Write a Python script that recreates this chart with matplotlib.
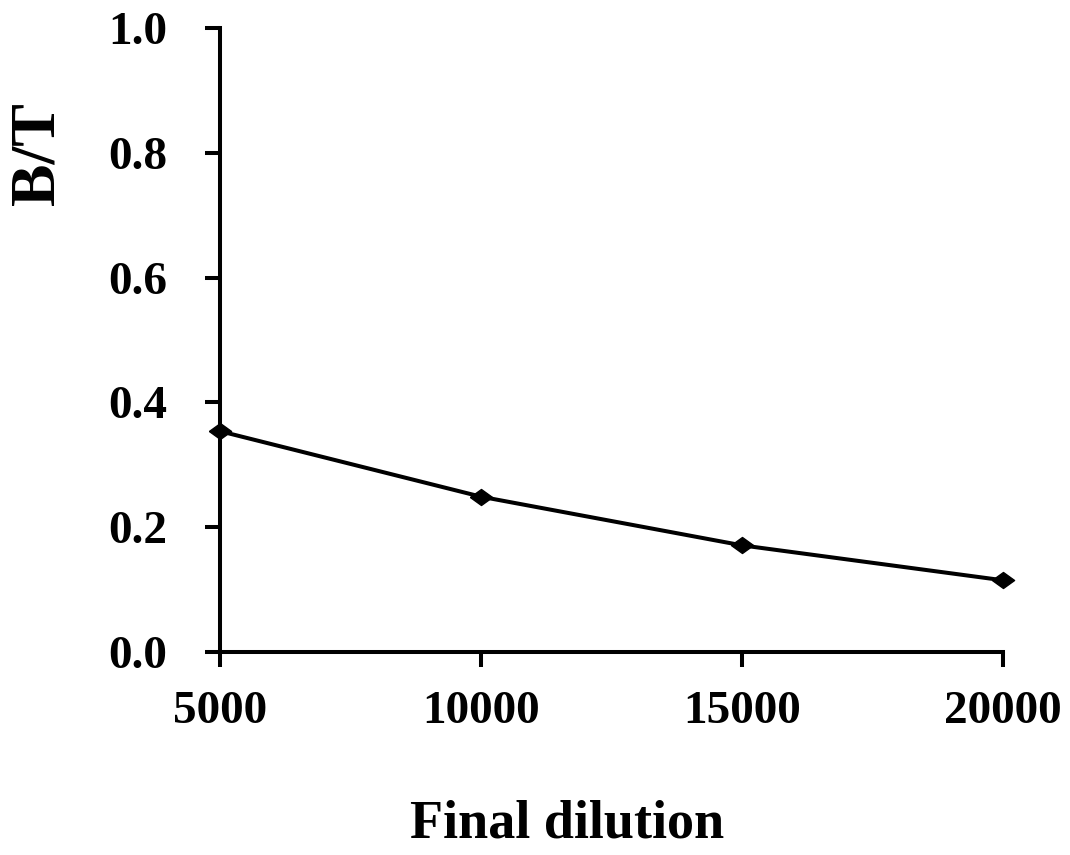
import matplotlib.pyplot as plt

# data
dilution = [5000, 10000, 15000, 20000]
bt_ratio = [0.354, 0.249, 0.171, 0.115]

x_ticks = [5000, 10000, 15000, 20000]
y_ticks = [0.0, 0.2, 0.4, 0.6, 0.8, 1.0]

plt.rcParams['font.family'] = ['Liberation Serif', 'DejaVu Serif']
plt.rcParams['font.weight'] = 'bold'

fig = plt.figure(figsize=(10.7, 8.55), dpi=100)
ax = fig.add_axes([0.2056, 0.2374, 0.7318, 0.7296])

# flattened diamond marker like the original
diamond = [(-1, 0), (0, 0.72), (1, 0), (0, -0.72), (-1, 0)]

ax.plot(dilution, bt_ratio, color='black', linewidth=2.9,
        marker=diamond, markersize=16, markerfacecolor='black',
        markeredgecolor='black', clip_on=False, zorder=3)

ax.set_xlim(5000, 20000)
ax.set_ylim(0, 1.0)
ax.set_xticks(x_ticks)
ax.set_yticks(y_ticks)
ax.set_xticklabels([str(v) for v in x_ticks], fontsize=34, fontweight='bold')
ax.set_yticklabels([f"{v:.1f}" for v in y_ticks], fontsize=34, fontweight='bold')

for side in ['top', 'right']:
    ax.spines[side].set_visible(False)
for side in ['left', 'bottom']:
    ax.spines[side].set_linewidth(2.9)

ax.tick_params(axis='both', direction='out', length=11, width=2.9)
ax.tick_params(axis='y', pad=27)
ax.tick_params(axis='x', pad=17)

fig.text(0.530, 0.021, "Final dilution", fontsize=39,
         fontweight='bold', ha='center', va='baseline')
fig.text(0.036, 0.82, "B/T", fontsize=46, fontweight='bold',
         rotation=90, ha='center', va='center')

fig.savefig("out.png", dpi=100)
